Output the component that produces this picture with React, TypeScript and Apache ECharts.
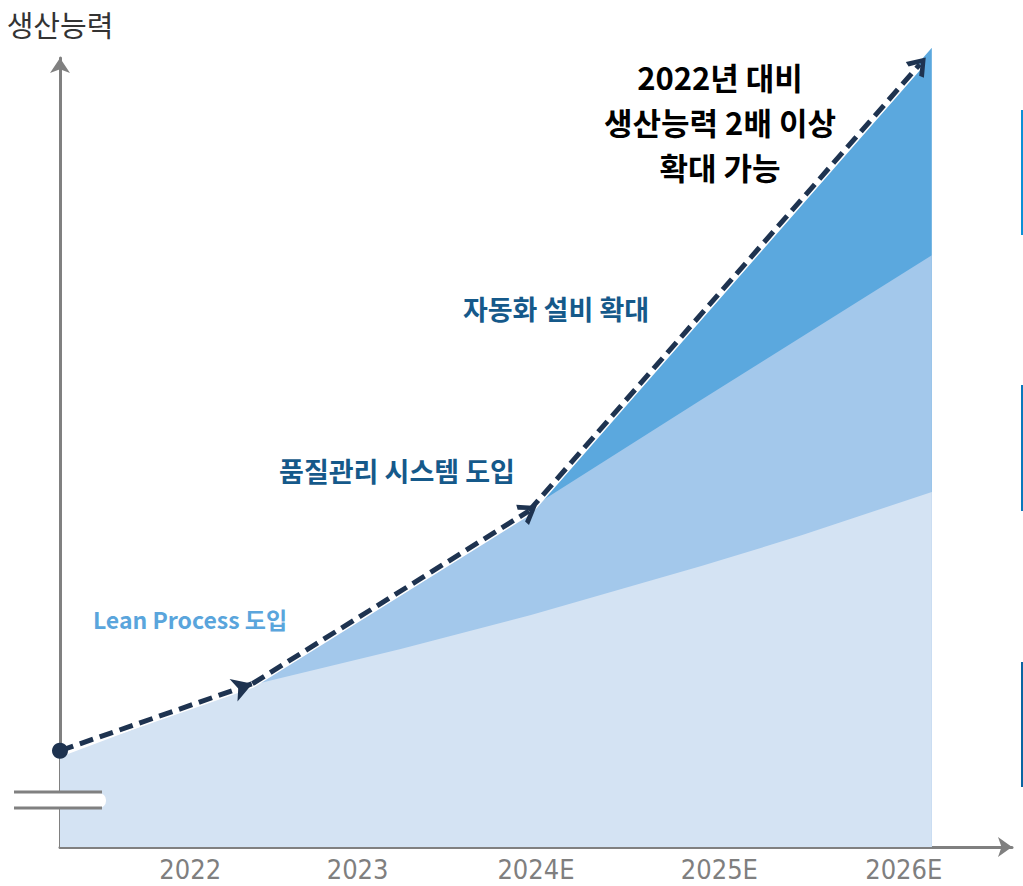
import React, { useEffect, useRef } from "react";
import * as echarts from "echarts";

// x positions (abstract timeline units) of the year tick labels
const tickPos = [13, 29.7, 47.5, 65.8, 84.2];
const tickLabels = ["2022", "2023", "2024E", "2025E", "2026E"];

// Layer 1: Lean Process (bottom)
const leanX = [0, 19, 34, 47, 64, 74, 87];
const leanY = [11.4, 20.5, 25.1, 29.4, 35.6, 39.5, 45.0];
// Layer 2: quality system (cumulative top)
const qualityX = [19, 47, 64, 87];
const qualityY = [20.5, 43.0, 56.7, 75.0];
// Layer 3: automation (cumulative top)
const autoX = [47, 87];
const autoY = [43.0, 101.3];
// Growth path (dashed arrows)
const pathX = [0, 19.2, 46.8, 85.8];
const pathY = [12.2, 20.7, 42.6, 99.2];

const headline = ["2022년 대비", "생산능력 2배 이상", "확대 가능"];

const AXIS = "#808080";
const NAVY = "#1e3350";

const zip = (xs: number[], ys: number[]) => xs.map((x, i) => [x, ys[i]]);

const chevron = "path://M0,22 L12,0 L24,22 L19,24 L12,10 L5,24 Z";

export default function App() {
  const ref = useRef<HTMLDivElement>(null);
  useEffect(() => {
    const chart = echarts.init(ref.current!, null, { renderer: "svg" });
    const segs: any[] = [];
    for (let i = 0; i < pathX.length - 1; i++) {
      segs.push([
        { coord: [pathX[i], pathY[i]], symbol: "none" },
        {
          coord: [pathX[i + 1], pathY[i + 1]],
          symbol: i === 0 ? "arrow" : chevron,
          symbolSize: i === 0 ? [18, 20] : [24, 18],
        },
      ]);
    }
    const headlineTexts = headline.map((t, i) => ({
      type: "text",
      x: 720,
      y: 76 + i * 45,
      style: {
        text: t,
        align: "center",
        verticalAlign: "middle",
        fill: "#000",
        font: "bold 31px 'Noto Sans CJK KR', sans-serif",
      },
      z: 100,
    }));
    chart.setOption({
      animation: false,
      grid: { left: 60, right: 11, top: 58, bottom: 39, containLabel: false, outerBoundsMode: "none" },
      xAxis: {
        type: "value",
        min: 0,
        max: 95,
        splitLine: { show: false },
        axisTick: { show: false },
        axisLine: {
          show: true,
          onZero: false,
          symbol: ["none", "arrow"],
          symbolSize: [15, 14],
          lineStyle: { color: AXIS, width: 3 },
        },
        axisLabel: {
          customValues: tickPos,
          formatter: (v: number) => {
            const i = tickPos.indexOf(v);
            return i >= 0 ? tickLabels[i] : "";
          },
          color: "#7f7f7f",
          fontSize: 27,
          margin: 9,
          fontFamily: "'Liberation Sans Narrow', 'DejaVu Sans Condensed', 'Liberation Sans', sans-serif",
        },
      },
      yAxis: {
        type: "value",
        min: 0,
        max: 100,
        name: "생산능력",
        nameLocation: "end",
        nameGap: 20,
        nameTextStyle: { fontSize: 29, color: "#333", fontFamily: "'Noto Sans CJK KR', sans-serif", align: "center" },
        splitLine: { show: false },
        axisTick: { show: false },
        axisLabel: { show: false },
        axisLine: {
          show: true,
          onZero: false,
          symbol: ["none", "arrow"],
          symbolSize: [15, 15],
          lineStyle: { color: AXIS, width: 3 },
        },
      },
      series: [
        {
          name: "자동화 설비 확대",
          type: "line",
          data: zip(autoX, autoY),
          symbol: "none",
          clip: false,
          lineStyle: { width: 0 },
          areaStyle: { color: "#5ba8de", opacity: 1 },
          z: 1,
        },
        {
          name: "품질관리 시스템 도입",
          type: "line",
          data: zip(qualityX, qualityY),
          symbol: "none",
          lineStyle: { width: 0 },
          areaStyle: { color: "#a3c8eb", opacity: 1 },
          z: 2,
        },
        {
          name: "Lean Process 도입",
          type: "line",
          data: zip(leanX, leanY),
          symbol: "none",
          lineStyle: { width: 0 },
          areaStyle: { color: "#d4e3f3", opacity: 1 },
          z: 3,
        },
        {
          name: "path",
          type: "line",
          data: zip(pathX, pathY),
          symbol: "none",
          clip: false,
          lineStyle: { color: "#ffffff", width: 8 },
          z: 4,
          markLine: {
            silent: true,
            animation: false,
            label: { show: false },
            lineStyle: { color: NAVY, width: 5, type: [14, 7], cap: "butt" },
            data: segs,
          },
          markPoint: {
            silent: true,
            label: { show: false },
            data: [{ coord: [pathX[0], pathY[0]], symbol: "circle", symbolSize: 16, itemStyle: { color: NAVY } }],
          },
        },
      ],
      graphic: [
        ...headlineTexts,
        {
          type: "text",
          x: 556,
          y: 308,
          style: {
            text: "자동화 설비 확대",
            align: "center",
            verticalAlign: "middle",
            fill: "#15598a",
            font: "bold 27px 'Noto Sans CJK KR', sans-serif",
          },
          z: 100,
        },
        {
          type: "text",
          x: 397,
          y: 470,
          style: {
            text: "품질관리 시스템 도입",
            align: "center",
            verticalAlign: "middle",
            fill: "#15598a",
            font: "bold 27px 'Noto Sans CJK KR', sans-serif",
          },
          z: 100,
        },
        {
          type: "text",
          x: 190,
          y: 619,
          style: {
            text: "Lean Process 도입",
            align: "center",
            verticalAlign: "middle",
            fill: "#5aa5dc",
            font: "bold 23px 'Noto Sans CJK KR', sans-serif",
          },
          z: 100,
        },
        {
          type: "rect",
          shape: { x: 14, y: 793, width: 92, height: 15, r: [0, 7, 7, 0] },
          style: { fill: "#ffffff" },
          z: 100,
        },
        {
          type: "line",
          shape: { x1: 14, y1: 792, x2: 102, y2: 792 },
          style: { stroke: AXIS, lineWidth: 3 },
          z: 101,
        },
        {
          type: "line",
          shape: { x1: 14, y1: 808, x2: 102, y2: 808 },
          style: { stroke: AXIS, lineWidth: 3 },
          z: 101,
        },
        { type: "rect", shape: { x: 1021, y: 110, width: 2, height: 125 }, style: { fill: "#0b90d6" }, z: 100 },
        { type: "rect", shape: { x: 1021, y: 385, width: 2, height: 126 }, style: { fill: "#0a78bc" }, z: 100 },
        { type: "rect", shape: { x: 1021, y: 662, width: 2, height: 125 }, style: { fill: "#0a65a2" }, z: 100 },
      ],
    });
    return () => chart.dispose();
  }, []);
  return <div ref={ref} style={{ width: 1023, height: 886, position: "absolute", left: 0, top: 0 }} />;
}
